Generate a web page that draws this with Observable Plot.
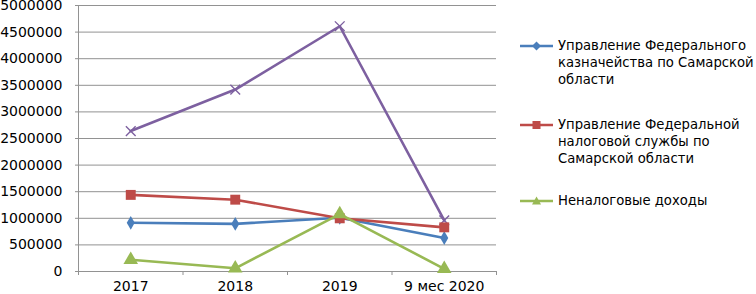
<!DOCTYPE html>
<html>
<head>
<meta charset="utf-8">
<script src="https://cdn.jsdelivr.net/npm/d3@7"></script>
<script src="https://cdn.jsdelivr.net/npm/@observablehq/plot@0.6"></script>
<style>
  html, body { margin: 0; padding: 0; background: #fff; }
  #wrap { position: relative; width: 756px; height: 294px; font-family: "DejaVu Sans", sans-serif; color: #000; overflow: hidden; }
  #chart { position: absolute; left: 0; top: 0; }
  .entry { position: absolute; left: 520px; font-size: 13.2px; line-height: 17px; }
  .entry svg { position: absolute; left: 0; top: 2px; }
  .entry .t { position: absolute; left: 38px; top: 0; white-space: nowrap; }
</style>
</head>
<body>
<div id="wrap">
  <div id="chart"></div>
  <div id="legend"></div>
</div>
<script>
const categories = ["2017", "2018", "2019", "9 мес 2020"];
const treasury = [915000, 895000, 1010000, 630000];
const taxService = [1440000, 1350000, 1000000, 830000];
const nonTax = [220000, 60000, 1080000, 50000];
const total = [2640000, 3420000, 4610000, 960000];
const yTicks = [0, 500000, 1000000, 1500000, 2000000, 2500000, 3000000, 3500000, 4000000, 4500000, 5000000];
const legendNames = [
  ["Управление Федерального", "казначейства по Самарской", "области"],
  ["Управление Федеральной", "налоговой службы по", "Самарской области"],
  ["Неналоговые доходы"]
];

const series = [
  {values: total, color: "#7d60a0", symbol: "times", r: 4.5, fill: "none"},
  {values: treasury, color: "#4a7ebb", symbol: "diamond", r: 4.2, fill: "#4a7ebb"},
  {values: taxService, color: "#be4b48", symbol: "square", r: 5.6, fill: "#be4b48"},
  {values: nonTax, color: "#98b954", symbol: "triangle", r: 5.4, fill: "#98b954"}
];

const xDomain = [-0.5, categories.length - 0.5];
const seps = d3.range(categories.length + 1).map(i => i - 0.5);
const idx = categories.map((c, i) => i);

const marks = [
  Plot.ruleY(yTicks, {stroke: "#929292", strokeWidth: 1, insetLeft: -3}),
  Plot.ruleX([xDomain[0]], {stroke: "#929292", strokeWidth: 1}),
  Plot.ruleX(seps, {y1: 0, y2: 0, stroke: "#929292", strokeWidth: 1, insetBottom: -4}),
  Plot.text(categories, {x: (d, i) => i, y: () => 0, dy: 15.5, text: d => d, fontSize: 14, fill: "#000"})
];
for (const s of series) {
  const data = idx.map(i => ({x: i, y: s.values[i]}));
  marks.push(Plot.line(data, {x: "x", y: "y", stroke: s.color, strokeWidth: 2.6}));
  if (s.fill === "none") {
    marks.push(Plot.dot(data, {x: "x", y: "y", symbol: s.symbol, r: s.r, stroke: s.color, strokeWidth: 1.4, fill: "none"}));
  } else {
    marks.push(Plot.dot(data, {x: "x", y: "y", symbol: s.symbol, r: s.r, fill: s.fill, stroke: "none"}));
  }
}

const chart = Plot.plot({
  width: 510,
  height: 294,
  marginLeft: 78,
  marginRight: 14,
  marginTop: 5,
  marginBottom: 23,
  style: {fontFamily: "DejaVu Sans, sans-serif", fontSize: "14px", color: "#000", background: "#fff", overflow: "visible"},
  x: {type: "linear", domain: xDomain, axis: null},
  y: {domain: [0, 5000000], ticks: yTicks, tickFormat: d3.format("d"), tickSize: 0, tickPadding: 16, label: null},
  marks
});
document.getElementById("chart").appendChild(chart);

// legend
const legendSeries = series.slice(1);
const legendTops = [37, 116, 192];
const legend = document.getElementById("legend");
legendSeries.forEach((s, k) => {
  const e = document.createElement("div");
  e.className = "entry";
  e.style.top = legendTops[k] + "px";
  let marker = "";
  if (s.symbol === "diamond") marker = `<path d="M16.5,2.5 L21,7 L16.5,11.5 L12,7 Z" fill="${s.color}"/>`;
  if (s.symbol === "square") marker = `<rect x="12.5" y="3" width="8" height="8" fill="${s.color}"/>`;
  if (s.symbol === "triangle") marker = `<path d="M16.5,2.5 L21,10.5 L12,10.5 Z" fill="${s.color}"/>`;
  e.innerHTML = `<svg width="34" height="14"><line x1="0" y1="7" x2="33" y2="7" stroke="${s.color}" stroke-width="2.6"/>${marker}</svg>` +
    `<div class="t">${legendNames[k].join("<br>")}</div>`;
  legend.appendChild(e);
});
</script>
</body>
</html>
